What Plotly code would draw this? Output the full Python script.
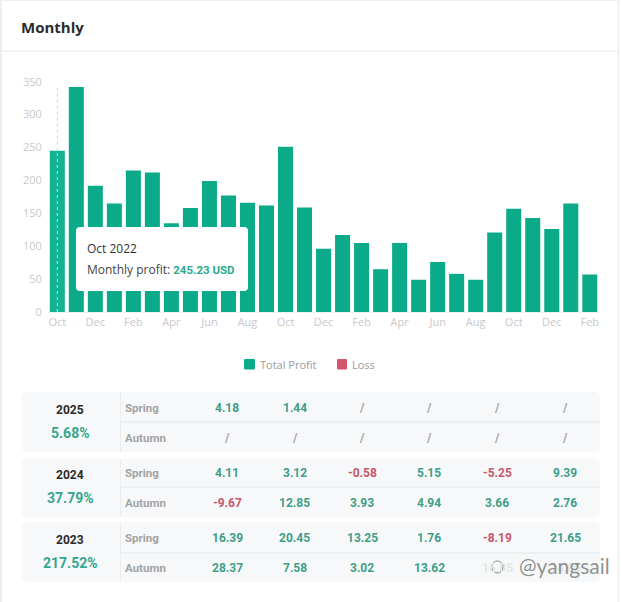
import plotly.graph_objects as go

# ---------- data ----------
months = ["Oct 2022","Nov 2022","Dec 2022","Jan 2023","Feb 2023","Mar 2023","Apr 2023","May 2023","Jun 2023","Jul 2023",
          "Aug 2023","Sep 2023","Oct 2023","Nov 2023","Dec 2023","Jan 2024","Feb 2024","Mar 2024","Apr 2024","May 2024",
          "Jun 2024","Jul 2024","Aug 2024","Sep 2024","Oct 2024","Nov 2024","Dec 2024","Jan 2025","Feb 2025"]
profit = [245.23,342,192,165,215,212,135,158,199,177,166,162,251,159,96,117,105,65,105,49,76,58,49,121,157,143,126,165,57]
tick_months = months[::2]
tick_labels = [m.split()[0] for m in tick_months]
y_ticks = [0,50,100,150,200,250,300,350]

years = ["2025","2024","2023"]
year_pct = ["5.68%","37.79%","217.52%"]
spring = [["4.18","1.44","/","/","/","/"],
          ["4.11","3.12","-0.58","5.15","-5.25","9.39"],
          ["16.39","20.45","13.25","1.76","-8.19","21.65"]]
autumn = [["/","/","/","/","/","/"],
          ["-9.67","12.85","3.93","4.94","3.66","2.76"],
          ["28.37","7.58","3.02","13.62","16.05","14.05"]]

# ---------- layout constants ----------
W, H = 621, 602
GREEN = "#0bab89"
RED = "#c9566a"
LOSS = "#d2566b"
FONT = "Open Sans"
TFONT = "Roboto"
def px(x): return x / W
def py(y): return 1 - y / H

fig = go.Figure()
fig.add_bar(x=months, y=profit, name="Total Profit", showlegend=False,
            marker=dict(color=["#12b592"] + [GREEN] * (len(profit) - 1), line_width=0))
fig.add_bar(x=months, y=[None] * len(months), name="Loss", showlegend=False,
            marker=dict(color=LOSS, line_width=0))

shapes, ann = [], []

def rrect(x0, y0, x1, y1, r, fill, layer="above"):
    p = (f"M {px(x0+r)} {py(y0)} L {px(x1-r)} {py(y0)} Q {px(x1)} {py(y0)} {px(x1)} {py(y0+r)} "
         f"L {px(x1)} {py(y1-r)} Q {px(x1)} {py(y1)} {px(x1-r)} {py(y1)} L {px(x0+r)} {py(y1)} "
         f"Q {px(x0)} {py(y1)} {px(x0)} {py(y1-r)} L {px(x0)} {py(y0+r)} Q {px(x0)} {py(y0)} {px(x0+r)} {py(y0)} Z")
    return dict(type="path", path=p, xref="paper", yref="paper", fillcolor=fill,
                line=dict(color=fill, width=0), layer=layer)

def hline(x0, x1, y, c):
    return dict(type="line", xref="paper", yref="paper", x0=px(x0), x1=px(x1), y0=py(y), y1=py(y),
                line=dict(color=c, width=1), layer="below")

def vline(x, y0, y1, c, w=1):
    return dict(type="line", xref="paper", yref="paper", x0=px(x), x1=px(x), y0=py(y0), y1=py(y1),
                line=dict(color=c, width=w), layer="below")

def text(x, y, s, size, color, anchor="center", family=FONT, bold=False):
    t = f"<b>{s}</b>" if bold else s
    xx = x - 2 if anchor == "left" else x
    ann.append(dict(x=px(xx), y=py(y), xref="paper", yref="paper", text=t, showarrow=False,
                    xanchor=anchor, yanchor="middle", font=dict(size=size, color=color, family=family)))

# card frame + header
shapes += [vline(1, 0, H, "#efefef", 2), vline(618.5, 0, H, "#f2f2f2", 2), hline(1, 618, 51, "#e9e9e9"),
           hline(1, 618, 0.5, "#efefef")]
text(21, 27, "Monthly", 15, "#2b2b2b", "left", FONT, True)

# crosshair: grey above the first bar, white across it
shapes.append(dict(type="line", xref="x", yref="y", x0=months[0], x1=months[0], y0=profit[0], y1=345,
                   line=dict(color="#d4d4d4", width=1, dash="3px,3px"), layer="above"))
shapes.append(dict(type="line", xref="x", yref="y", x0=months[0], x1=months[0], y0=0, y1=profit[0],
                   line=dict(color="rgba(255,255,255,0.7)", width=1, dash="3px,3px"), layer="above"))

# tooltip
shapes.append(rrect(76, 227, 248, 291, 4, "#ffffff"))
text(87, 248, months[0], 12, "#333333", "left")
text(87, 270, f"Monthly profit: <b><span style='color:#2ba98d;font-family:Roboto;font-size:11.5px'>{profit[0]:.2f} USD</span></b>",
     12, "#444444", "left")

# manual legend (tight swatch/label spacing)
shapes.append(rrect(244, 359, 255, 369.5, 1, GREEN, "below"))
text(260, 364.5, "Total Profit", 11, "#9b9b9b", "left")
shapes.append(rrect(337, 359, 347, 369.5, 1, LOSS, "below"))
text(352, 364.5, "Loss", 11, "#9b9b9b", "left")

# tables
panels = [(392, 452), (459, 517), (522, 582)]
row_mid = [(422, 408, 438, 410, 433), (487, 473, 503, 475, 498), (553, 538, 568, 540, 563)]
col_x = [227, 294.5, 362, 429, 497, 565]
VEILED = {(2, 4), (2, 5)}  # cells under the watermark
def vcolor(v):
    if v == "/": return "#a5a5a5"
    return RED if v.startswith("-") else "#3f9e88"

for k, (y0, y1) in enumerate(panels):
    shapes.append(rrect(22, y0, 600, y1, 5, "#f6f8f9", "below"))
    ln, ys, ya, yy, yp = row_mid[k]
    shapes += [hline(121, 600, ln, "#e3e7e9"), vline(120.5, y0, y1, "#eaedef")]
    text(70, yy, years[k], 12, "#2b2b2b", family=TFONT, bold=True)
    text(70, yp, year_pct[k], 14, "#35a68d", family=TFONT, bold=True)
    text(125, ys, "Spring", 11.5, "#a3a3a3", "left", TFONT, True)
    text(125, ya, "Autumn", 11.5, "#a3a3a3", "left", TFONT, True)
    for c, (cx, s, a) in enumerate(zip(col_x, spring[k], autumn[k])):
        text(cx, ys, s, 12, vcolor(s), family=TFONT, bold=True)
        text(cx, ya, a, 12, "#dfe9e6" if (k, c) in VEILED else vcolor(a), family=TFONT, bold=True)

# watermark: logo and handle
shapes.append(dict(type="circle", xref="paper", yref="paper", x0=px(492), x1=px(503), y0=py(573), y1=py(561),
                   line=dict(color="rgba(110,110,110,0.8)", width=1), fillcolor="rgba(255,255,255,0.6)", layer="above"))
text(564, 565, "@yangsail", 21, "rgba(125,125,125,0.85)", family="Lato")

fig.update_layout(
    width=W, height=H, margin=dict(l=0, r=0, t=0, b=0, autoexpand=False),
    paper_bgcolor="white", plot_bgcolor="white",
    bargap=0.21, barmode="overlay", hovermode=False, showlegend=False,
    font=dict(family=FONT),
    shapes=shapes, annotations=ann,
    xaxis=dict(domain=[px(47.8), px(599.3)], range=[-0.5, 28.5], type="category",
               categoryorder="array", categoryarray=months,
               tickmode="array", tickvals=tick_months, ticktext=tick_labels, ticks="",
               showgrid=False, showline=True, linecolor="#e9f4f1", zeroline=False,
               tickfont=dict(size=11, color="#c9c9c9"), anchor="y"),
    yaxis=dict(domain=[py(312), py(81.7)], range=[0, 350], tickmode="array", tickvals=y_ticks,
               ticks="", showgrid=False, showline=False, zeroline=False, ticklabelstandoff=5,
               tickfont=dict(size=11, color="#c9c9c9"), anchor="x"),
)

fig.write_html("out.html", config={"displayModeBar": False},
               post_script="document.body.style.margin='0';document.body.style.overflow='hidden';")
